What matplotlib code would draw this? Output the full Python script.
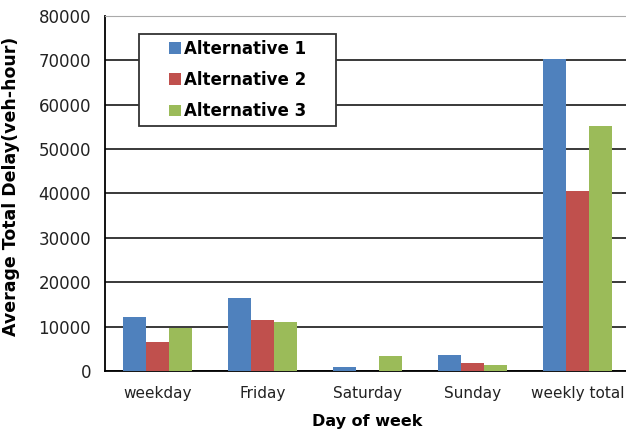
import numpy as np
import matplotlib.pyplot as plt
from matplotlib.patches import Rectangle

plt.rcParams['font.family'] = ['DejaVu Sans']

# delay per day type (veh-hour)
days = ['weekday', 'Friday', 'Saturday', 'Sunday', 'weekly total']
alt1 = [12250, 16500, 900, 3700, 70200]
alt2 = [6550, 11500, 0, 1900, 40600]
alt3 = [9800, 11150, 3400, 1250, 55100]
series_names = ['Alternative 1', 'Alternative 2', 'Alternative 3']
colors = ['#4F81BD', '#C0504D', '#9BBB59']

W, H = 626, 434
fig = plt.figure(figsize=(W / 100, H / 100), dpi=100)
ax = fig.add_axes([105 / W, 1 - 371 / H, 525 / W, 355 / H])

x = np.arange(len(days))
w = 0.222
for i, (vals, name, c) in enumerate(zip([alt1, alt2, alt3], series_names, colors)):
    ax.bar(x + (i - 1) * w, vals, width=w, color=c, label=name, zorder=3)

ax.set_xlim(-0.5, len(days) - 0.5)
ax.set_ylim(0, 80000)
ax.set_yticks(np.arange(0, 80001, 10000))
ax.set_xticks(x)
ax.set_xticklabels(days)
ax.tick_params(axis='y', length=0, labelsize=12, pad=10, labelcolor='#222222')
ax.tick_params(axis='x', length=0, labelsize=11, pad=11, labelcolor='#222222')

ax.yaxis.grid(True, color='#2a2a2a', linewidth=1.3, zorder=0)
ax.set_axisbelow(True)
ax.spines['right'].set_visible(False)
ax.spines['top'].set_color('#aaaaaa')
ax.spines['top'].set_linestyle((0, (1, 1)))
ax.spines['left'].set_linewidth(1.3)
ax.spines['bottom'].set_linewidth(1.3)

ax.set_ylabel('Average Total Delay(veh-hour)', fontsize=12.5, fontweight='bold')
ax.yaxis.set_label_coords((20 - 105) / 525, (371 - 186) / 355)
ax.set_xlabel('Day of week', fontsize=11.5, fontweight='bold', labelpad=9)

# legend box drawn separately so the padding can be wider than tall
bx0, by0, bx1, by1 = 139, 34, 336, 126
frame = Rectangle((bx0 / W, 1 - by1 / H), (bx1 - bx0) / W, (by1 - by0) / H,
                  transform=fig.transFigure, facecolor='white', edgecolor='#333333',
                  linewidth=1.3, zorder=4.5, clip_on=False)
ax.add_patch(frame)
leg = ax.legend(loc='center', bbox_to_anchor=((bx0 + bx1) / 2 / W, 1 - (by0 + by1) / 2 / H),
                bbox_transform=fig.transFigure, prop={'weight': 'bold', 'size': 12},
                frameon=False, handlelength=0.72, handleheight=0.72, handletextpad=0.15,
                labelspacing=0.8, borderpad=0, borderaxespad=0)
leg.set_zorder(5)

fig.savefig('out.png', dpi=100)
